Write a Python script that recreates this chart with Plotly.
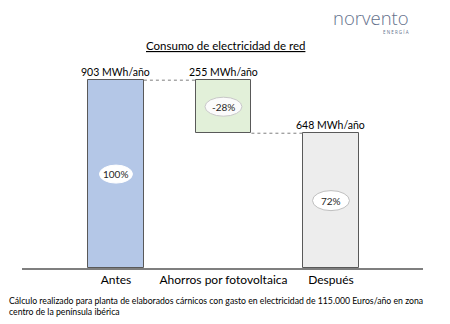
import plotly.graph_objects as go

# Waterfall of grid electricity consumption
categories = ["Antes", "Ahorros por fotovoltaica", "Después"]
values = [903, 255, 648]            # MWh/año
bases = [0, 648, 0]                  # starting level of each bar
percent_labels = ["100%", "-28%", "72%"]
value_labels = ["903 MWh/año", "255 MWh/año", "648 MWh/año"]
colors = ["#b4c7e7", "#e2f0d9", "#ededed"]

title_text = "Consumo de electricidad de red"
footnote = ("Cálculo realizado para planta de elaborados cárnicos con gasto en electricidad de 115.000 Euros/año en zona<br>"
            "centro de la península ibérica")

FONT = "Lato"
BAR_W = 0.52
xs = list(range(len(categories)))

# plot area in pixels (for placing free text in paper units)
L, R, T, B = 22, 27, 60, 56
PW, PH = 450 - L - R, 324 - T - B


def px(x):
    return (x - L) / PW


def py(y):
    return (324 - B - y) / PH


fig = go.Figure()
fig.add_trace(go.Bar(
    x=xs, y=values, base=bases, width=BAR_W,
    marker=dict(color=colors, line=dict(color="#595959", width=1)),
    hoverinfo="skip", showlegend=False,
))

shapes = []
annotations = []

# Dotted connectors between consecutive bars
tops = [b + v for b, v in zip(bases, values)]
connector_levels = [tops[0], bases[1]]
for i, lvl in enumerate(connector_levels):
    shapes.append(dict(type="line", xref="x", yref="y",
                       x0=xs[i] + BAR_W / 2, x1=xs[i + 1] - BAR_W / 2,
                       y0=lvl, y1=lvl,
                       line=dict(color="#7f7f7f", width=1, dash="dot")))

# Value labels above the bars and percentage ellipses inside them
ell_sizes = [(33, 18), (37, 19), (37, 20)]
ell_lines = ["#ffffff", "#c8c8c8", "#bfbfbf"]
ell_fills = ["#ffffff", "#fbfbfb", "#ffffff"]
for i in xs:
    mid = bases[i] + values[i] / 2
    w, h = ell_sizes[i]
    shapes.append(dict(type="circle", xref="x", yref="y",
                       xsizemode="pixel", ysizemode="pixel",
                       xanchor=xs[i], yanchor=mid,
                       x0=-w / 2, x1=w / 2, y0=-h / 2, y1=h / 2,
                       fillcolor=ell_fills[i], line=dict(color=ell_lines[i], width=1)))
    annotations.append(dict(x=xs[i], y=mid, xref="x", yref="y", text=percent_labels[i],
                            showarrow=False, font=dict(family=FONT, size=10, color="#262626")))
    annotations.append(dict(x=xs[i], y=tops[i], xref="x", yref="y", text=value_labels[i],
                            showarrow=False, yanchor="bottom", yshift=0,
                            font=dict(family=FONT, size=10.5, color="#000000")))

# Title
annotations.append(dict(x=px(225), y=py(45), xref="paper", yref="paper",
                        xanchor="center", yanchor="middle",
                        text=f"<u>{title_text}</u>", showarrow=False,
                        font=dict(family=FONT, size=11.5, color="#000000")))

# Footnote
annotations.append(dict(x=px(7), y=py(293), xref="paper", yref="paper", xanchor="left", yanchor="top",
                        align="left", text=footnote, showarrow=False,
                        font=dict(family=FONT, size=8.7, color="#000000")))

# Brand mark
annotations.append(dict(x=px(371), y=py(17), xref="paper", yref="paper", text="norvento",
                        showarrow=False, xanchor="center", yanchor="middle",
                        font=dict(family="Open Sans", size=18.5, color="#64718c", weight=300)))
annotations.append(dict(x=px(411), y=py(32), xref="paper", yref="paper", text="E N E R G Í A",
                        showarrow=False, xanchor="right", yanchor="middle",
                        font=dict(family="Open Sans", size=4.5, color="#64718c")))

fig.update_layout(
    width=450, height=324,
    margin=dict(l=L, r=R, t=T, b=B),
    paper_bgcolor="white", plot_bgcolor="white",
    shapes=shapes, annotations=annotations,
    xaxis=dict(range=[-0.874, 2.856], tickvals=xs, ticktext=categories,
               showgrid=False, zeroline=False, showline=True, linecolor="#7f7f7f", linewidth=1.5,
               ticks="", tickfont=dict(family=FONT, size=12, color="#000000"), fixedrange=True),
    yaxis=dict(range=[0, 1000], visible=False, fixedrange=True),
    bargap=0,
)

fig.write_html("out.html", config={"displayModeBar": False})
